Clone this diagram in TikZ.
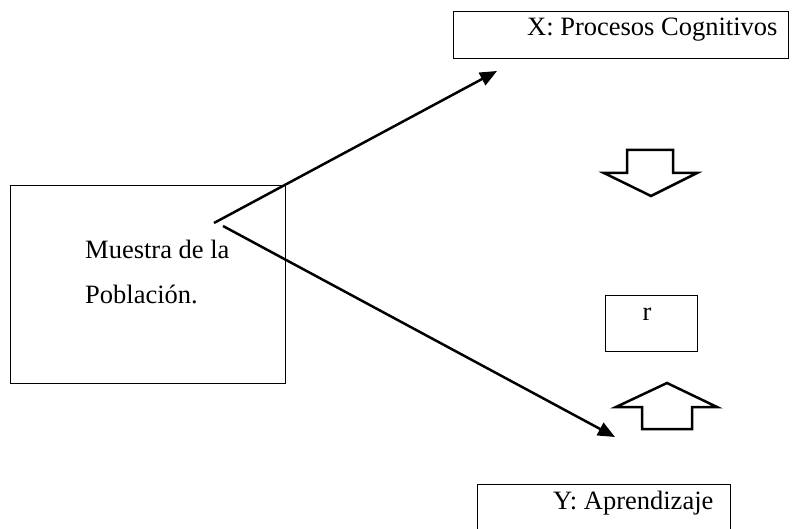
\documentclass[tikz,border=0pt]{standalone}
\usepackage{fontspec}
\setmainfont{Liberation Serif}
\usetikzlibrary{arrows.meta}
\begin{document}
\begin{tikzpicture}[x=1pt,y=-1pt,
  box/.style={draw=black,line width=1pt,inner sep=0pt,outer sep=0pt},
  lbl/.style={anchor=base west,inner sep=0pt,font=\fontsize{26.5}{30}\selectfont},
  conn/.style={line width=2.5pt,-{Triangle[length=17pt,width=14pt]}},
  blockarrow/.style={draw=black,line width=2.5pt,line join=miter,fill=white}]
\useasboundingbox (0,0) rectangle (799,529);
% boxes
\node[box,minimum width=335pt,minimum height=47pt] (X) at (620.5,35.5) {};
\node[lbl] (Xt) at (527,36) {X: Procesos Cognitivos};
\node[box,minimum width=275pt,minimum height=197pt] (M) at (147.5,284.5) {};
\node[lbl] (Mt1) at (85,258) {Muestra de la};
\node[lbl] (Mt2) at (85,303) {Población.};
\node[box,minimum width=92pt,minimum height=56pt] (R) at (651,323) {};
\node[lbl,anchor=base] (Rt) at (647,320) {r};
\node[box,minimum width=253pt,minimum height=60pt] (Y) at (603.5,514) {};
\node[lbl] (Yt) at (553,509) {Y: Aprendizaje};
% connectors
\coordinate (s1) at (214,223);
\coordinate (e1) at (497,71);
\coordinate (s2) at (223,226);
\coordinate (e2) at (615,437);
\draw[conn] (s1) -- (e1);
\draw[conn] (s2) -- (e2);
% block arrows
\draw[blockarrow] (627,150) -- (673,150) -- (673,173) -- (697,173) -- (651,196) -- (604,173) -- (627,173) -- cycle;
\draw[blockarrow] (667,383) -- (717,407) -- (692,407) -- (692,429) -- (642,429) -- (642,407) -- (616,407) -- cycle;
\end{tikzpicture}
\end{document}
